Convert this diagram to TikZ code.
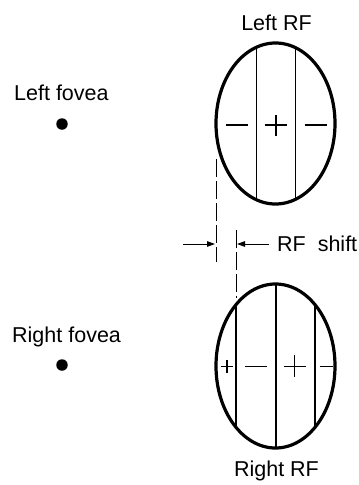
\documentclass[tikz,border=0pt]{standalone}
\usepackage{fontspec}
\setmainfont{Liberation Sans}
\usetikzlibrary{arrows.meta,shapes.geometric}
\begin{document}
\begin{tikzpicture}[x=1pt,y=-1pt,
  lbl/.style={font=\fontsize{21.5}{24}\selectfont, inner sep=0pt},
  rfoval/.style={line width=3.2pt},
  rfline/.style={line width=1.9pt},
  tickmark/.style={line width=1.8pt},
  guide/.style={line width=1pt, dash pattern=on 18pt off 4pt},
  ptr/.style={line width=1pt, -{Triangle[length=8pt,width=5.5pt]}},
  fov/.style={circle, fill=black, inner sep=0pt, minimum size=11.5pt}]
\useasboundingbox (0,0) rectangle (359,485);
% labels
\node[lbl] (lrf) at (276.5,23) {Left RF};
\node[lbl] (rrf) at (276.5,471) {Right RF};
\node[lbl,anchor=west] (lf) at (14,93) {Left fovea};
\node[lbl,anchor=west] (rfv) at (12,337) {Right fovea};
\node[lbl,anchor=west] (shift) at (277,244) {RF\ \ shift};
% foveae
\node[fov] (ldot) at (62,124) {};
\node[fov] (rdot) at (62,365) {};
% left RF
\node[draw, ellipse, rfoval, minimum width=119pt, minimum height=161pt, inner sep=0pt] (le) at (275.5,123.5) {};
\begin{scope}
\clip (275.5,123.5) ellipse [x radius=59.5, y radius=80.5];
\draw[rfline] (256.5,40) -- (256.5,210);
\draw[rfline] (295.5,40) -- (295.5,210);
\end{scope}
\draw[tickmark] (226,125) -- (248,125);
\draw[tickmark] (264.5,125) -- (286.5,125);
\draw[tickmark] (276,115) -- (276,136);
\draw[tickmark] (304.5,125) -- (326.5,125);
% right RF
\node[draw, ellipse, rfoval, minimum width=119pt, minimum height=164pt, inner sep=0pt] (re) at (275.5,366) {};
\begin{scope}
\clip (275.5,366) ellipse [x radius=59.5, y radius=82];
\draw[rfline] (236,280) -- (236,452);
\draw[rfline] (276,280) -- (276,452);
\draw[rfline] (315,280) -- (315,452);
\end{scope}
\draw[tickmark] (221,366.5) -- (233,366.5);
\draw[tickmark] (227,360) -- (227,373);
\draw[tickmark] (245,366.5) -- (267,366.5);
\draw[tickmark] (283.5,366.5) -- (306,366.5);
\draw[tickmark] (294.5,355) -- (294.5,377);
\draw[tickmark] (319.5,366.5) -- (332.5,366.5);
% guides
\coordinate (g1t) at (216,159);
\coordinate (g1b) at (216,262);
\coordinate (g2t) at (236,230);
\coordinate (g2b) at (236,298);
\draw[guide] (g1t) -- (g1b);
\draw[guide] (g2t) -- (g2b);
% arrows
\coordinate (a1s) at (183,244);
\coordinate (a1e) at (215,244);
\coordinate (a2s) at (269,244);
\coordinate (a2e) at (237,244);
\draw[ptr] (a1s) -- (a1e);
\draw[ptr] (a2s) -- (a2e);
\end{tikzpicture}
\end{document}
